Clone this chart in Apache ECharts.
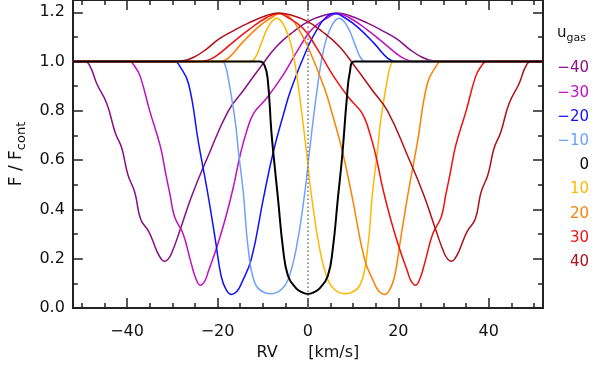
<!DOCTYPE html>
<html>
<head>
<meta charset="utf-8">
<script src="https://cdn.jsdelivr.net/npm/echarts@6/dist/echarts.min.js"></script>
<style>
  html, body { margin: 0; padding: 0; background: #fff; }
  #main { width: 592px; height: 367px; }
</style>
</head>
<body>
<div id="main"></div>
<script>
// gas velocities, one profile per value
const uGas = [-40, -30, -20, -10, 0, 10, 20, 30, 40];

// axis ticks
const xMajor = [-40, -20, 0, 20, 40];
const xMinor = [-50, -45, -35, -30, -25, -15, -10, -5, 5, 10, 15, 25, 30, 35, 45, 50];
const yMajor = [0, 0.2, 0.4, 0.6, 0.8, 1.0, 1.2];
const yMinor = [0.1, 0.3, 0.5, 0.7, 0.9, 1.1];
const rvZero = 0;

// line profiles [RV, F/Fcont]
const profM40 = [[-52,1.0],[-49.5,1.0],[-48.3,0.985],[-46.7,0.91],[-44.5,0.83],[-42.6,0.71],[-41.2,0.65],[-39.8,0.54],[-38.3,0.47],[-37,0.36],[-35.2,0.31],[-33.4,0.23],[-32.5,0.20],[-31.8,0.19],[-31,0.197],[-30.2,0.22],[-28.4,0.31],[-25.6,0.46],[-22,0.62],[-17.6,0.80],[-14.2,0.885],[-10.4,0.98],[-7,1.06],[-3.3,1.12],[0.3,1.165],[4,1.19],[6.5,1.197],[9,1.188],[13.2,1.156],[16.5,1.125],[19.8,1.09],[22.5,1.05],[25,1.02],[27.5,1.003],[29.5,1.0],[52,1.0]];
const profM30 = [[-52,1],[-39.5,1],[-38.3,0.98],[-37.1,0.94],[-35,0.80],[-32.7,0.66],[-31.4,0.54],[-30.5,0.46],[-29.5,0.37],[-27.6,0.30],[-25.8,0.18],[-24.8,0.12],[-23.8,0.092],[-22.8,0.11],[-22,0.15],[-20.1,0.25],[-18.3,0.36],[-16.5,0.49],[-15,0.62],[-13.5,0.72],[-12,0.79],[-9.2,0.85],[-5.5,0.945],[-1.8,1.06],[1.1,1.135],[4.7,1.182],[6.5,1.195],[9,1.18],[13.2,1.128],[16.8,1.075],[20.5,1.02],[22.5,1.004],[24,1.0],[52,1]];
const profM20 = [[-52,1],[-29.5,1],[-28.3,0.98],[-26.4,0.91],[-24.2,0.67],[-22.3,0.48],[-20.5,0.28],[-19.2,0.13],[-18.1,0.075],[-16.9,0.055],[-15.7,0.068],[-14.7,0.10],[-12.5,0.20],[-9.9,0.44],[-7.7,0.63],[-5.5,0.78],[-3.7,0.89],[0,1.06],[2,1.13],[4,1.18],[6,1.195],[8,1.18],[11,1.14],[14.6,1.075],[17.6,1.014],[19.5,1.0],[52,1]];
const profM10 = [[-52,1],[-19,1],[-18.3,0.985],[-17.6,0.93],[-16.1,0.76],[-15.4,0.64],[-14.3,0.47],[-13.2,0.24],[-11.7,0.10],[-9.5,0.062],[-8,0.058],[-5.9,0.075],[-4.4,0.115],[-2.6,0.24],[-0.7,0.467],[0.3,0.63],[2.2,0.91],[3.6,1.06],[5.1,1.14],[6.9,1.176],[8.8,1.14],[10.3,1.075],[11.7,1.014],[12.8,1.0],[52,1]];
const prof0 = [[-52,1],[-10.6,1.0],[-9.6,0.985],[-8.9,0.93],[-8.1,0.72],[-7.6,0.62],[-6.6,0.44],[-5.5,0.24],[-4.4,0.13],[-2.6,0.08],[-1.2,0.063],[0,0.057],[1.2,0.063],[2.6,0.08],[4.4,0.13],[5.5,0.24],[6.6,0.44],[7.6,0.62],[8.6,0.85],[9.3,0.96],[10.3,1.0],[52,1]];
const profP10 = [[-52,1],[-12.8,1.0],[-11.7,1.014],[-10.3,1.075],[-8.8,1.14],[-6.9,1.176],[-5.1,1.14],[-3.6,1.06],[-2.2,0.91],[-0.3,0.63],[0.7,0.467],[2.6,0.24],[4.4,0.115],[5.9,0.075],[8,0.058],[9.5,0.062],[11.7,0.10],[13.2,0.24],[14.3,0.47],[15.4,0.64],[16.1,0.76],[17.6,0.93],[18.3,0.985],[19,1],[52,1]];
const profP20 = [[-52,1],[-19.5,1.0],[-17.6,1.014],[-14.6,1.075],[-11,1.14],[-8,1.18],[-6,1.195],[-4,1.18],[-2,1.13],[0,1.06],[3.7,0.89],[5.5,0.78],[7.7,0.63],[9.9,0.44],[12.5,0.20],[14.7,0.10],[15.7,0.068],[16.9,0.055],[18.1,0.075],[19.2,0.13],[20.5,0.28],[22.3,0.48],[24.2,0.67],[26.4,0.91],[28.3,0.98],[29.5,1],[52,1]];
const profP30 = [[-52,1],[-24,1.0],[-22.5,1.004],[-20.5,1.02],[-16.8,1.075],[-13.2,1.128],[-9,1.18],[-6.5,1.195],[-4.7,1.182],[-1.1,1.135],[1.8,1.06],[5.5,0.945],[9.2,0.85],[12,0.79],[13.5,0.72],[15,0.62],[16.5,0.49],[18.3,0.36],[20.1,0.25],[22,0.15],[22.8,0.11],[23.8,0.092],[24.8,0.12],[25.8,0.18],[27.6,0.30],[29.5,0.37],[30.5,0.46],[31.4,0.54],[32.7,0.66],[35,0.80],[37.1,0.94],[38.3,0.98],[39.5,1],[52,1]];
const profP40 = [[-52,1.0],[-29.5,1.0],[-27.5,1.003],[-25,1.02],[-22.5,1.05],[-19.8,1.09],[-16.5,1.125],[-13.2,1.156],[-9,1.188],[-6.5,1.197],[-4,1.19],[-0.3,1.165],[3.3,1.12],[7,1.06],[10.4,0.98],[14.2,0.885],[17.6,0.80],[22,0.62],[25.6,0.46],[28.4,0.31],[30.2,0.22],[31,0.197],[31.8,0.19],[32.5,0.20],[33.4,0.23],[35.2,0.31],[37,0.36],[38.3,0.47],[39.8,0.54],[41.2,0.65],[42.6,0.71],[44.5,0.83],[46.7,0.91],[48.3,0.985],[49.5,1.0],[52,1.0]];

const profiles = [profM40, profM30, profM20, profM10, prof0, profP10, profP20, profP30, profP40];
const colors = ['#861085', '#c010c0', '#1010ff', '#70a0ff', '#000000', '#ffb800', '#ff8000', '#f01010', '#b01018'];

const FONT = 'DejaVu Sans';
const AX = '#222';

function minus(v) {
  return v < 0 ? '\u2212' + (-v) : String(v);
}

function tickAxis(pos, vals, len) {
  const horiz = pos === 'top' || pos === 'bottom';
  return {
    type: 'value', position: pos,
    min: horiz ? -52 : 0,
    max: horiz ? 52 : 1.25,
    axisLine: { show: true, onZero: false, lineStyle: { color: AX, width: 2 } },
    axisTick: { show: true, inside: true, length: len, customValues: vals, lineStyle: { color: AX, width: 1.5 } },
    axisLabel: { show: false },
    splitLine: { show: false }
  };
}

const xAxes = [
  Object.assign(tickAxis('bottom', xMajor, 10), {
    axisLabel: {
      show: true, customValues: xMajor, margin: 16, formatter: minus,
      color: '#111', fontFamily: FONT, fontSize: 16
    },
    name: 'RV      [km/s]', nameLocation: 'middle', nameGap: 37,
    nameTextStyle: { color: '#111', fontFamily: FONT, fontSize: 16 }
  }),
  tickAxis('bottom', xMinor, 5),
  tickAxis('top', xMajor, 10),
  tickAxis('top', xMinor, 5)
];

const yAxes = [
  Object.assign(tickAxis('left', yMajor, 10), {
    axisLabel: {
      show: true, customValues: yMajor, margin: 8, formatter: v => v.toFixed(1),
      color: '#111', fontFamily: FONT, fontSize: 16
    },
    name: '{m|F / F}{s|cont}', nameLocation: 'middle', nameGap: 44,
    nameTextStyle: {
      rich: {
        m: { fontFamily: FONT, fontSize: 17, color: '#111', lineHeight: 24 },
        s: { fontFamily: FONT, fontSize: 13, color: '#111', lineHeight: 14, verticalAlign: 'bottom' }
      }
    }
  }),
  tickAxis('left', yMinor, 5),
  tickAxis('right', yMajor, 10),
  tickAxis('right', yMinor, 5)
];

// black profile drawn last so it sits on top
const order = [0, 1, 2, 3, 5, 6, 7, 8, 4];
const series = order.map(i => ({
  name: minus(uGas[i]),
  type: 'line',
  xAxisIndex: 0, yAxisIndex: 0,
  data: profiles[i],
  smooth: 0.45,
  symbol: 'none',
  clip: true,
  lineStyle: { color: colors[i], width: uGas[i] === 0 ? 2 : 1.5 },
  z: uGas[i] === 0 ? 3 : 2,
  markLine: uGas[i] === 0 ? {
    silent: true, symbol: 'none', label: { show: false },
    lineStyle: { color: '#777', type: [1.5, 2.5], width: 1.5 },
    data: [{ xAxis: rvZero }]
  } : undefined
}));

// legend: u_gas heading and coloured values
const legendItems = uGas.map((u, i) => ({
  type: 'text', right: 3, top: 61 + i * 24.2,
  style: { text: minus(u), fill: colors[i], font: '15px "DejaVu Sans"', textAlign: 'right' }
}));
legendItems.unshift({
  type: 'text', right: 6, top: 26,
  style: {
    text: '{u|u}{g|gas}',
    rich: {
      u: { fontFamily: FONT, fontSize: 15, fill: '#111', lineHeight: 20 },
      g: { fontFamily: FONT, fontSize: 11, fill: '#111', lineHeight: 12, verticalAlign: 'bottom' }
    }
  }
});

const chart = echarts.init(document.getElementById('main'), null, { renderer: 'canvas' });
chart.setOption({
  animation: false,
  backgroundColor: '#fff',
  grid: { left: 71, right: 49, top: 0, bottom: 59, containLabel: false },
  xAxis: xAxes,
  yAxis: yAxes,
  series: series,
  graphic: legendItems
});
</script>
</body>
</html>
